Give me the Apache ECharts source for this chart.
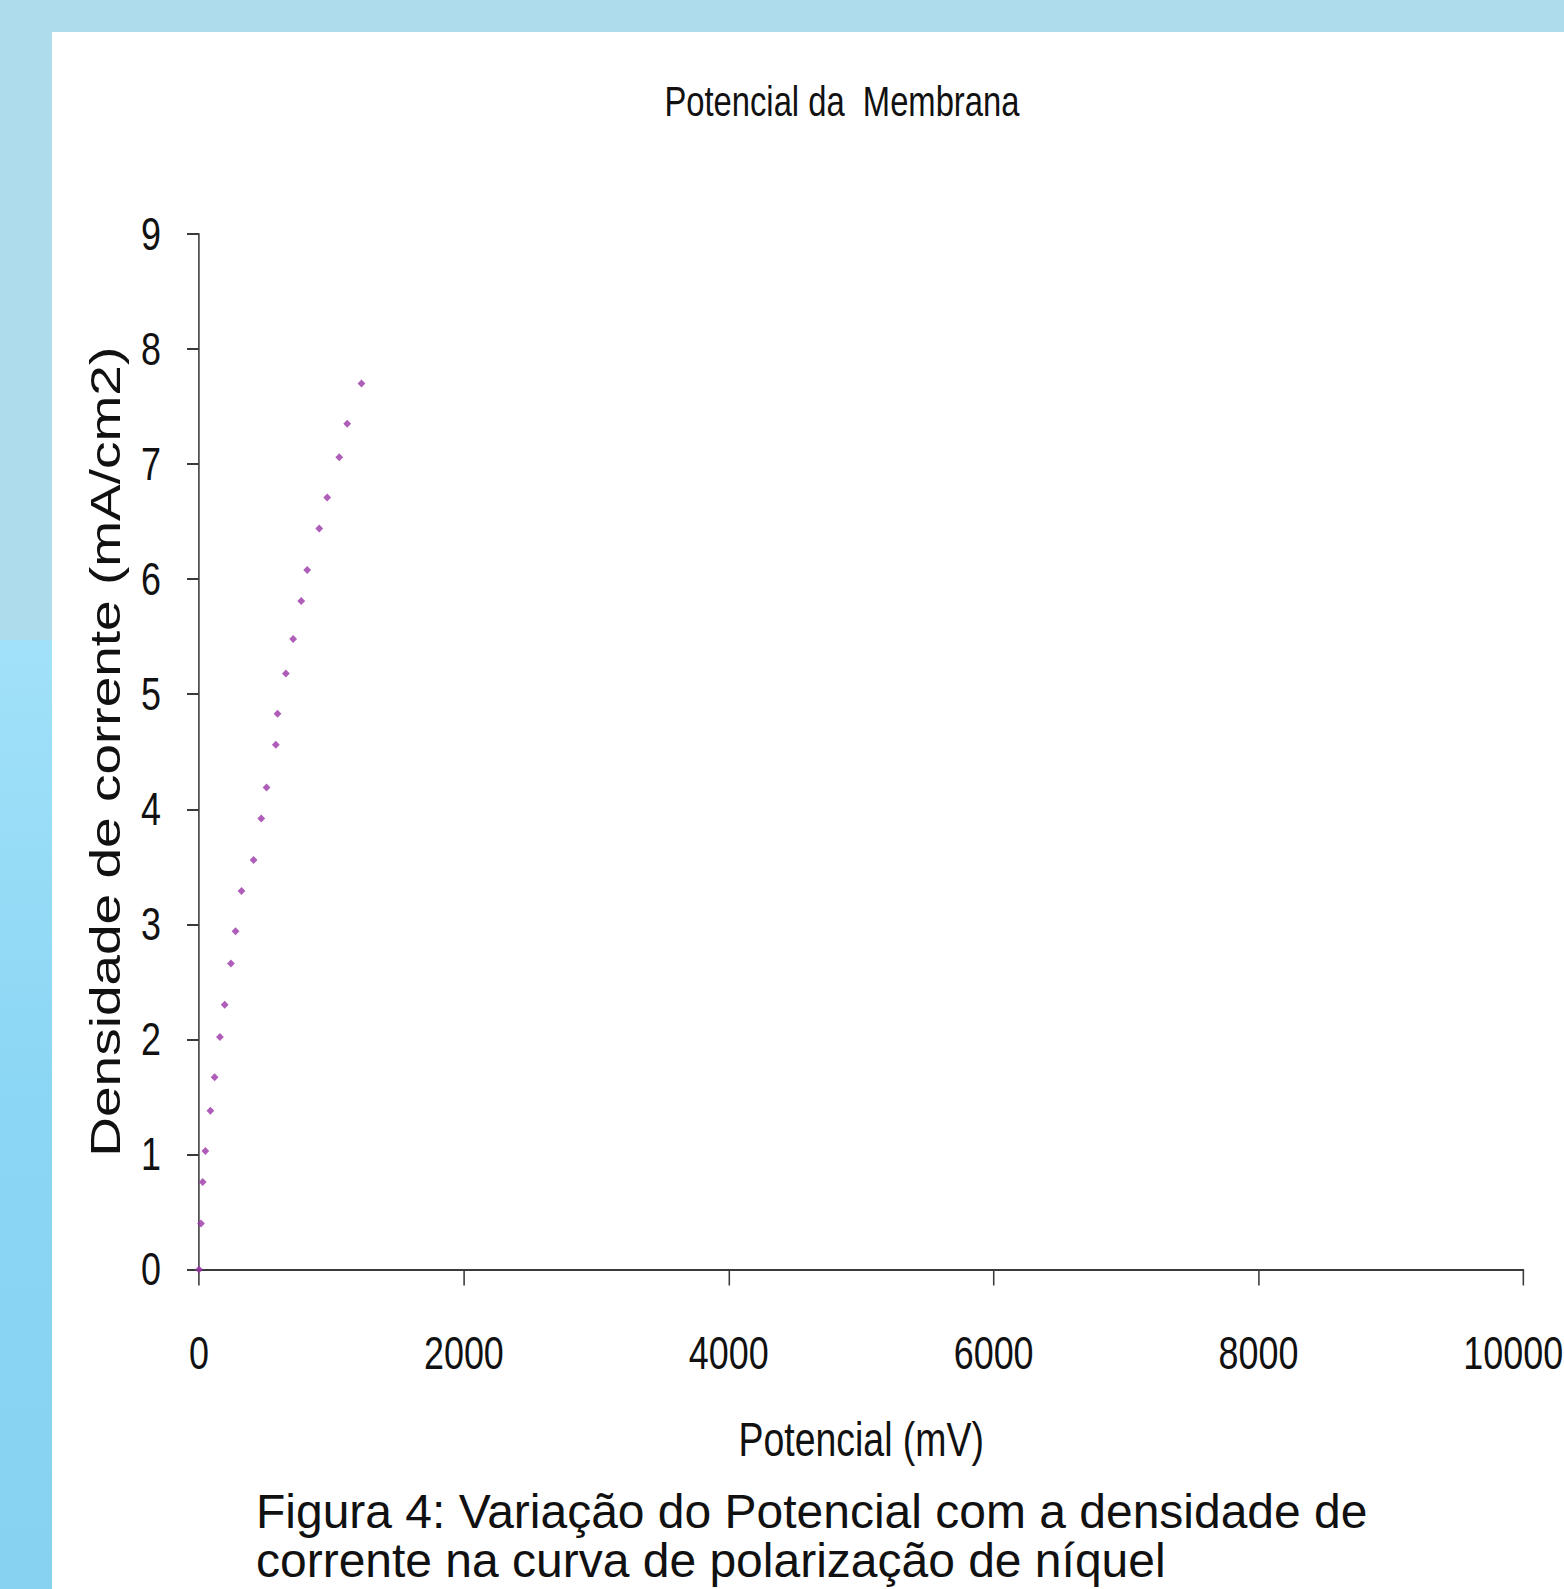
<!DOCTYPE html>
<html>
<head>
<meta charset="utf-8">
<script src="https://cdn.jsdelivr.net/npm/echarts/dist/echarts.min.js"></script>
<style>
html,body{margin:0;padding:0;background:#aedcec;overflow:hidden;width:1564px;height:1589px;}
/* the reference chart is horizontally condensed; draw wider and squeeze */
#chart{width:2005px;height:1589px;transform:scaleX(0.78);transform-origin:0 0;}
</style>
</head>
<body>
<div id="chart"></div>
<script>
// Data
const potencial = [0, 15, 28, 48, 86, 118, 158, 194, 241, 276, 321, 412, 470, 510, 580, 593, 656, 711, 772, 817, 908, 968, 1059, 1119, 1227];
const densidade = [0, 0.40, 0.76, 1.03, 1.38, 1.67, 2.02, 2.30, 2.66, 2.94, 3.29, 3.56, 3.92, 4.19, 4.56, 4.83, 5.18, 5.48, 5.81, 6.08, 6.44, 6.71, 7.06, 7.35, 7.70];
const xTicks = [0, 2000, 4000, 6000, 8000, 10000];
const yTicks = [0, 1, 2, 3, 4, 5, 6, 7, 8, 9];
const chartTitle = 'Potencial da  Membrana';
const xName = 'Potencial (mV)';
const yName = 'Densidade de corrente (mA/cm2)';
const caption = 'Figura 4: Variação do Potencial com a densidade de\ncorrente na curva de polarização de níquel';

const SX = 0.78; // horizontal squeeze of the reference picture
const points = potencial.map((x, i) => [x, densidade[i]]);
const font = '"Liberation Sans", Arial, sans-serif';
const axisColor = '#3a3a3a';
const xMax = xTicks[xTicks.length - 1];

const chart = echarts.init(document.getElementById('chart'), null, { renderer: 'svg' });
chart.setOption({
  backgroundColor: '#aedcec',
  animation: false,
  graphic: [
    {
      type: 'rect', z: -10, silent: true,
      shape: { x: 0, y: 640, width: 52 / SX, height: 949 },
      style: {
        fill: new echarts.graphic.LinearGradient(0, 0, 0, 1, [
          { offset: 0, color: '#a2e1f9' },
          { offset: 0.5, color: '#8ad6f4' },
          { offset: 1, color: '#88d2f1' }
        ])
      }
    },
    {
      type: 'rect', z: -9, silent: true,
      shape: { x: 52 / SX, y: 32, width: 1600 / SX, height: 1557 },
      style: { fill: '#ffffff' }
    },
    {
      type: 'text', z: 10, silent: true,
      x: 256 / SX, y: 1487, scaleX: 1 / SX,
      style: {
        text: caption,
        font: '48px "Liberation Sans", Arial, sans-serif',
        fill: '#111111',
        lineHeight: 49,
        verticalAlign: 'top'
      }
    }
  ],
  title: {
    text: chartTitle,
    left: 838 / SX,
    textAlign: 'center',
    top: 75,
    textStyle: { fontFamily: font, fontSize: 42, fontWeight: 'normal', color: '#111' }
  },
  grid: {
    left: 199 / SX, right: 40.5 / SX, top: 234, bottom: 319.5,
    containLabel: false,
    outerBoundsMode: 'none'
  },
  xAxis: {
    type: 'value',
    min: xTicks[0],
    max: xMax,
    interval: xTicks[1] - xTicks[0],
    name: xName,
    nameLocation: 'middle',
    nameGap: 146,
    nameTextStyle: { fontFamily: font, fontSize: 48, color: '#111' },
    axisLine: { show: true, onZero: false, lineStyle: { color: axisColor, width: 2 } },
    axisTick: { show: true, length: 16, lineStyle: { color: axisColor, width: 2 } },
    axisLabel: {
      margin: 61,
      fontFamily: font, fontSize: 46, color: '#111',
      formatter: v => (v === xMax ? '{last|' + v + '}' : String(v)),
      rich: {
        last: { fontFamily: font, fontSize: 46, color: '#111', padding: [0, 26, 0, 0] }
      }
    },
    splitLine: { show: false }
  },
  yAxis: {
    type: 'value',
    min: yTicks[0],
    max: yTicks[yTicks.length - 1],
    interval: yTicks[1] - yTicks[0],
    name: yName,
    nameLocation: 'middle',
    nameGap: 93,
    nameRotate: 90,
    nameTextStyle: { fontFamily: font, fontSize: 55, color: '#111' },
    axisLine: { show: true, onZero: false, lineStyle: { color: axisColor, width: 2 } },
    axisTick: { show: true, length: 12 / SX, lineStyle: { color: axisColor, width: 2 } },
    axisLabel: {
      margin: 38 / SX,
      fontFamily: font, fontSize: 46, color: '#111'
    },
    splitLine: { show: false }
  },
  series: [{
    type: 'scatter',
    data: points,
    symbol: 'diamond',
    symbolSize: [10, 8],
    itemStyle: { color: '#9a36a8' },
    clip: false
  }]
});
</script>
</body>
</html>
